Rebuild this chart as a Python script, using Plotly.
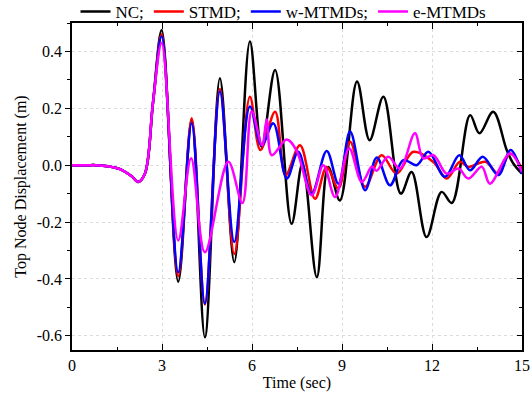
import plotly.graph_objects as go

# Shared initial segment (all cases identical before ~2.7 s)
t_start = [0, 0.5, 0.8, 1.2, 1.6, 2.0, 2.2, 2.43, 2.7]
y_start = [0, 0, 0, -0.004, -0.014, -0.04, -0.059, -0.03, 0.22]

t_nc = t_start + [2.99, 3.54, 3.99, 4.43, 4.93, 5.41, 5.93, 6.32, 6.77, 7.32, 7.68, 8.16, 8.54,
                  8.93, 9.5, 9.92, 10.38, 10.96, 11.32, 11.82, 12.32, 12.66, 13.27, 13.58, 14.04,
                  14.49, 14.71, 15]
y_nc = y_start + [0.475, -0.41, 0.16, -0.605, 0.306, -0.341, 0.435, 0.065, 0.335, -0.206, 0.005,
                  -0.394, -0.006, -0.124, 0.294, 0.088, 0.241, -0.1, -0.024, -0.253, -0.094,
                  -0.133, 0.176, 0.112, 0.188, 0.053, 0.006, -0.03]

t_stmd = t_start + [2.99, 3.54, 3.99, 4.43, 4.93, 5.41, 5.93, 6.28, 6.77, 7.12, 7.6, 8.1, 8.49,
                    8.88, 9.27, 9.77, 10.32, 10.82, 11.38, 12.04, 12.49, 12.93, 13.21, 13.78,
                    14.21, 14.6, 15]
y_stmd = y_start + [0.46, -0.39, 0.165, -0.49, 0.268, -0.312, 0.241, 0.053, 0.188, -0.035, 0.07,
                    -0.118, -0.006, -0.082, 0.082, -0.076, 0.035, -0.03, 0.047, 0.012, -0.047,
                    0.012, -0.006, 0.012, -0.03, 0.041, -0.012]

t_w = t_start + [2.99, 3.54, 3.99, 4.43, 4.93, 5.41, 5.93, 6.32, 6.71, 7.16, 7.54, 7.99, 8.49,
                 8.88, 9.27, 9.77, 10.16, 10.6, 11.04, 11.49, 11.88, 12.43, 12.91, 13.27, 13.69,
                 14.21, 14.62, 15]
y_w = y_start + [0.453, -0.377, 0.147, -0.487, 0.259, -0.27, 0.206, 0.07, 0.147, -0.047, 0.047,
                 -0.1, 0.05, -0.065, 0.118, -0.088, 0.027, -0.071, 0.018, 0.0, 0.047, -0.041,
                 0.035, -0.018, 0.03, -0.035, 0.053, -0.03]

t_e = t_start + [2.99, 3.54, 3.97, 4.43, 5.21, 5.68, 5.99, 6.34, 6.49, 6.66, 7.16, 7.49, 7.99,
                 8.38, 8.77, 9.24, 9.66, 10.0, 10.15, 10.54, 10.93, 11.43, 11.71, 12.05, 12.49,
                 12.88, 13.21, 13.66, 13.93, 14.6, 15]
y_e = y_start + [0.43, -0.265, 0.024, -0.306, 0.012, -0.133, 0.19, 0.07, 0.161, 0.035, 0.09, 0.05,
                 -0.106, 0.0, -0.112, 0.059, -0.059, -0.005, -0.02, 0.03, -0.012, 0.112, 0.024,
                 0.035, -0.03, -0.012, -0.047, -0.006, -0.065, 0.041, -0.024]

names = ["NC;", "STMD;", "w-MTMDs;", "e-MTMDs"]
colors = ["#000000", "#ff0000", "#0000ff", "#ff00ff"]
series = [(t_nc, y_nc), (t_stmd, y_stmd), (t_w, y_w), (t_e, y_e)]

x_ticks = [0, 3, 6, 9, 12, 15]
y_ticks = [-0.6, -0.4, -0.2, 0.0, 0.2, 0.4]
y_ticktext = ["-0.6", "-0.4", "-0.2", "0.0", "0.2", "0.4"]

FONT = "Times New Roman, Liberation Serif, serif"
TF = dict(family=FONT, size=16, color="black")

fig = go.Figure()
for (t, y), n, c in zip(series, names, colors):
    fig.add_trace(go.Scatter(x=t, y=y, name=n, mode="lines",
                             line=dict(color=c, width=2.5, shape="spline", smoothing=1.0)))

# invisible trace for right axis
fig.add_trace(go.Scatter(x=[0], y=[0], yaxis="y2", mode="lines", showlegend=False,
                         line=dict(width=0), hoverinfo="skip"))

yr = [-0.65, 0.5]
fig.update_layout(
    width=532, height=399,
    margin=dict(l=72, r=10, t=23, b=49, autoexpand=False),
    paper_bgcolor="white", plot_bgcolor="white",
    font=dict(family=FONT, size=16, color="black"),
    showlegend=True,
    legend=dict(orientation="h", x=0.47, xanchor="center", y=1 - 12 / 399, yref="container",
                yanchor="middle", font=dict(size=17, family=FONT, color="black"),
                bgcolor="rgba(0,0,0,0)", tracegroupgap=0),
    xaxis=dict(range=[0, 15], tickvals=x_ticks, ticks="inside", ticklen=6, tickwidth=1.2,
               tickcolor="black",
               minor=dict(dtick=1.5, ticks="inside", ticklen=3, tickcolor="black", showgrid=False),
               showline=True, linecolor="black", linewidth=1.5, mirror="ticks",
               showgrid=True, gridcolor="#dcdcdc", griddash="dot", gridwidth=1,
               zeroline=False, automargin=False,
               title=dict(text="Time (sec)", font=dict(family=FONT, size=16), standoff=4),
               tickfont=TF),
    yaxis=dict(range=yr, tickvals=y_ticks, ticktext=y_ticktext, ticks="outside", ticklen=5,
               tickwidth=1.2, tickcolor="black",
               minor=dict(dtick=0.1, ticks="outside", ticklen=3, tickcolor="black", showgrid=False),
               showline=True, linecolor="black", linewidth=1.5, mirror=True,
               showgrid=True, gridcolor="#dcdcdc", griddash="dot", gridwidth=1,
               zeroline=False, automargin=False,
               title=dict(text="Top Node Displacement (m)", font=dict(family=FONT, size=16),
                          standoff=6),
               tickfont=TF),
    yaxis2=dict(range=yr, overlaying="y", side="right", tickvals=y_ticks, showticklabels=False,
                ticks="inside", ticklen=5, tickwidth=1.2, tickcolor="black",
                minor=dict(dtick=0.1, ticks="inside", ticklen=3, tickcolor="black"),
                showgrid=False, zeroline=False, showline=False, automargin=False),
)

fig.write_html("out.html", config={"displayModeBar": False},
               post_script="document.body.style.margin='0px';")
